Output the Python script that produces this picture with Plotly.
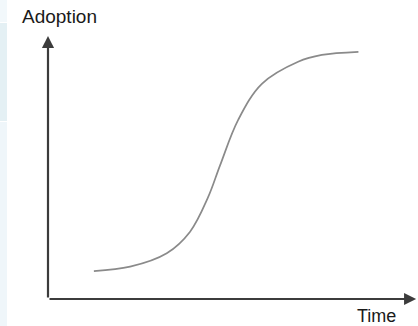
import plotly.graph_objects as go

# Data (time 0-100, adoption 0-100)
time = [12.4, 22.2, 32.1, 38.4, 43.3, 46.5, 51.4, 57.8, 67.6, 74.0, 83.9]
adoption = [10.6, 12.3, 17.4, 25.6, 38.8, 50.8, 68.1, 81.8, 90.2, 92.8, 94.0]

x_label = "Time"
y_label = "Adoption"

fig = go.Figure()
fig.add_trace(go.Scatter(
    x=time, y=adoption, mode="lines",
    line=dict(color="#8a8a8a", width=1.7, shape="spline", smoothing=1.0),
    hoverinfo="skip", showlegend=False,
))

axis_color = "#3c3c3c"
annotations = [
    # vertical axis arrow
    dict(x=0, y=100, ax=0, ay=0, xref="x", yref="y", axref="x", ayref="y",
         showarrow=True, arrowhead=2, arrowsize=1.1, arrowwidth=2.2,
         arrowcolor=axis_color, text="", standoff=0, startstandoff=0),
    # horizontal axis arrow
    dict(x=99.5, y=0, ax=0, ay=0, xref="x", yref="y", axref="x", ayref="y",
         showarrow=True, arrowhead=2, arrowsize=1.1, arrowwidth=2.2,
         arrowcolor=axis_color, text="", standoff=0, startstandoff=0),
    dict(x=-48 / 370 + 59 / 370, y=(299 - 16.5) / 263, xref="paper", yref="paper",
         text=y_label, showarrow=False, xanchor="center", yanchor="middle",
         font=dict(family="Liberation Sans, Arial, sans-serif", size=19, color="#1a1a1a")),
    dict(x=(376 - 48) / 370, y=(299 - 315.5) / 263, xref="paper", yref="paper",
         text=x_label, showarrow=False, xanchor="center", yanchor="middle",
         font=dict(family="Liberation Sans, Arial, sans-serif", size=18, color="#1a1a1a")),
]

def px_x(p):
    return (p - 48) / 370

def px_y(p):
    return (299 - p) / 263

shapes = [
    dict(type="rect", xref="paper", yref="paper", x0=px_x(0), x1=px_x(7),
         y0=px_y(0), y1=px_y(22), fillcolor="#f2f8fb", line=dict(width=0), layer="below"),
    dict(type="rect", xref="paper", yref="paper", x0=px_x(0), x1=px_x(7),
         y0=px_y(23), y1=px_y(121), fillcolor="#e4f0f4", line=dict(width=0), layer="below"),
    dict(type="rect", xref="paper", yref="paper", x0=px_x(0), x1=px_x(7),
         y0=px_y(122), y1=px_y(326), fillcolor="#eff6fa", line=dict(width=0), layer="below"),
]

fig.update_layout(
    width=418, height=326,
    margin=dict(l=48, r=0, t=36, b=27),
    paper_bgcolor="white", plot_bgcolor="white",
    xaxis=dict(range=[0, 100], visible=False, fixedrange=True),
    yaxis=dict(range=[0, 100], visible=False, fixedrange=True),
    annotations=annotations,
    shapes=shapes,
)

fig.write_html(
    "out.html",
    config={"displayModeBar": False},
    post_script="document.body.style.margin='0';document.body.style.padding='0';document.body.style.overflow='hidden';",
)
